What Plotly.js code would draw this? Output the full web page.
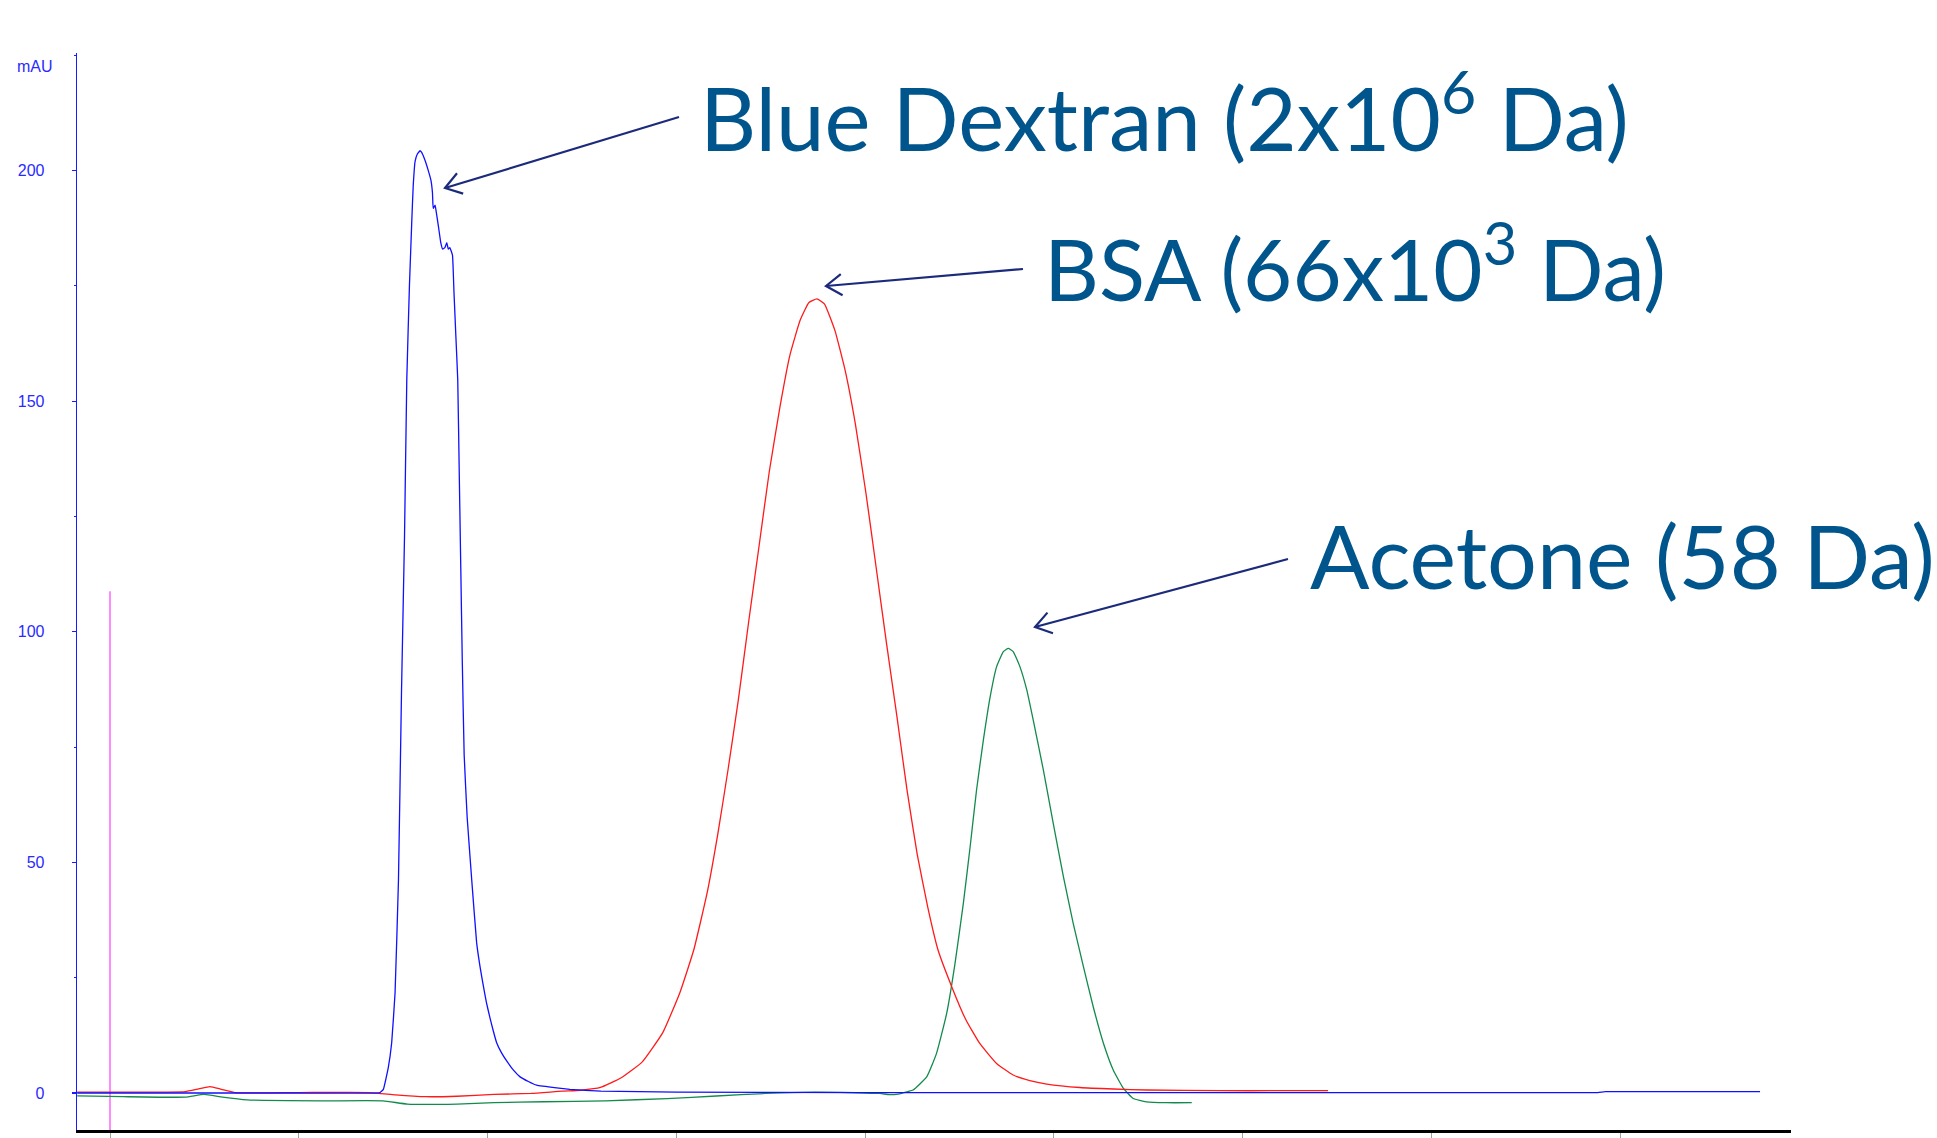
<!DOCTYPE html>
<html>
<head>
<meta charset="utf-8">
<script src="https://cdn.plot.ly/plotly-3.0.1.min.js"></script>
<style>html,body{margin:0;padding:0;background:#fff;}#chart{width:1937px;height:1138px;}</style>
</head>
<body>
<div id="chart"></div>
<script>
// ---- data ----
const seriesNames = ["Blue Dextran", "BSA", "Acetone"];

const blueX = [-0.87, 1, 3, 5, 7.15, 7.24, 7.37, 7.46, 7.55, 7.64, 7.72, 7.80, 7.86, 7.93, 7.99, 8.03, 8.08, 8.14, 8.21, 8.25, 8.34, 8.43, 8.50, 8.54, 8.56, 8.61, 8.65, 8.70, 8.76, 8.81, 8.87, 8.92, 8.96, 9.00, 9.07, 9.11, 9.16, 9.21, 9.25, 9.29, 9.33, 9.38, 9.46, 9.58, 9.71, 9.80, 9.89, 9.97, 10.06, 10.15, 10.24, 10.37, 10.51, 10.68, 10.86, 11.08, 11.30, 11.83, 12.18, 13, 15, 20, 25, 30, 35, 39.4, 39.6, 41, 43.7];
const blueY = [0, 0, 0, 0, 0.1, 0.8, 5.5, 10.9, 21.8, 46.2, 86.8, 120.7, 154.6, 174.9, 188.5, 196.6, 202.0, 203.6, 204.3, 204.0, 202.3, 200.0, 197.9, 195.2, 191.8, 192.5, 190.5, 187.8, 184.4, 183.0, 183.3, 184.4, 183.0, 183.3, 181.7, 173.6, 164.1, 154.6, 134.3, 113.9, 93.6, 73.3, 59.7, 46.2, 32.6, 27.4, 23.1, 19.6, 16.4, 13.5, 10.9, 8.7, 6.9, 5.0, 3.5, 2.5, 1.7, 1.1, 0.8, 0.4, 0.2, 0.1, 0.1, 0.1, 0.1, 0.1, 0.3, 0.3, 0.3];

const redX = [-0.87, 1.5, 1.99, 2.35, 2.65, 2.95, 3.30, 5, 6.9, 7.56, 8.37, 9.19, 10.17, 11.15, 11.97, 12.46, 12.99, 13.54, 14.09, 14.64, 15.09, 15.46, 15.82, 16.10, 16.37, 16.64, 16.92, 17.19, 17.46, 17.74, 18.01, 18.28, 18.51, 18.72, 18.92, 19.20, 19.47, 19.74, 20.02, 20.29, 20.56, 20.84, 21.11, 21.38, 21.66, 21.93, 22.30, 22.66, 23.03, 23.48, 23.92, 24.36, 24.81, 25.69, 26.58, 27.45, 29.40, 31, 32.26];
const redY = [0.2, 0.2, 0.3, 0.9, 1.4, 0.8, 0.1, 0.1, 0.1, -0.4, -0.8, -0.7, -0.3, -0.1, 0.4, 0.6, 1.2, 3.3, 6.7, 13.1, 21.7, 31.0, 43.6, 56.3, 70.2, 85.2, 102.5, 118.6, 134.7, 148.6, 160.1, 167.6, 171.4, 172.2, 171.1, 165.3, 156.7, 145.1, 130.1, 114.0, 97.8, 81.7, 65.6, 51.7, 40.2, 31.0, 22.9, 16.0, 10.8, 6.4, 3.9, 2.7, 1.95, 1.2, 0.87, 0.65, 0.5, 0.5, 0.5];

const greenX = [-0.87, 0.36, 1.99, 2.49, 2.98, 3.63, 5.59, 7.23, 7.88, 9.19, 10.17, 11.48, 13.12, 14.75, 16.06, 17.37, 18.68, 19.99, 20.39, 20.64, 20.83, 21.13, 21.27, 21.63, 21.89, 22.16, 22.38, 22.60, 22.78, 22.95, 23.13, 23.31, 23.48, 23.66, 23.79, 23.92, 24.10, 24.28, 24.45, 24.72, 24.98, 25.25, 25.51, 25.78, 26.04, 26.31, 26.57, 26.84, 27.10, 27.45, 27.98, 28.65];
const greenY = [-0.6, -0.8, -0.9, -0.3, -0.9, -1.5, -1.7, -1.7, -2.4, -2.4, -2.1, -1.9, -1.7, -1.2, -0.65, -0.1, 0.2, 0.0, -0.1, -0.35, -0.3, 0.3, 0.65, 3.5, 8.6, 17.3, 28.1, 41.1, 53.4, 65.7, 76.5, 85.9, 92.4, 95.7, 96.4, 95.7, 92.4, 87.4, 80.9, 70.0, 58.5, 46.9, 36.8, 27.4, 18.7, 10.8, 5.0, 1.0, -1.2, -1.9, -2.1, -2.1];

const injectX = [0, 0];
const injectY = [-8, 108.8];

const yTickVals = [0, 50, 100, 150, 200];
const yTickText = ["0", "50", "100", "150", "200"];
const xTickVals = [0, 5, 10, 15, 20, 25, 30, 35, 40];

const labelTexts = [
  "Blue Dextran (2x10<sup>6</sup> Da)",
  "BSA (66x10<sup>3</sup> Da)",
  "Acetone (58 Da)"
];
const unitLabel = "mAU";

// ---- layout helpers (pixel -> paper) ----
const W = 1937, H = 1138;
const L = 77, R = 1791, T = 53, B = 1130;
const px = x => (x - L) / (R - L);
const py = y => (B - y) / (B - T);

const labelPos = [[698, 112], [1042, 262], [1308, 555]];
const labelSize = [87, 85, 88];
const arrows = [
  {tail: [679, 117], tip: [445, 188]},
  {tail: [1023, 269], tip: [826, 286]},
  {tail: [1288, 559], tip: [1035, 627]}
];
const arrowColor = "#1c2a7c";

const shapes = [];
arrows.forEach(a => {
  const dx = a.tail[0] - a.tip[0], dy = a.tail[1] - a.tip[1];
  const len = Math.hypot(dx, dy), ux = dx / len, uy = dy / len;
  const th = 34 * Math.PI / 180, al = 19;
  const arm = s => [a.tip[0] + al * (ux * Math.cos(s * th) - uy * Math.sin(s * th)),
                    a.tip[1] + al * (ux * Math.sin(s * th) + uy * Math.cos(s * th))];
  const p1 = arm(1), p2 = arm(-1);
  const line = {color: arrowColor, width: 2.2};
  shapes.push({type: "line", xref: "paper", yref: "paper", x0: px(a.tail[0]), y0: py(a.tail[1]), x1: px(a.tip[0]), y1: py(a.tip[1]), line});
  shapes.push({type: "path", xref: "paper", yref: "paper",
    path: `M${px(p1[0])},${py(p1[1])} L${px(a.tip[0])},${py(a.tip[1])} L${px(p2[0])},${py(p2[1])}`, line});
});

const annotations = labelTexts.map((t, i) => ({
  text: t, xref: "paper", yref: "paper", x: px(labelPos[i][0]), y: py(labelPos[i][1]),
  xanchor: "left", yanchor: "middle", showarrow: false,
  font: {family: "Lato, 'Open Sans', sans-serif", size: labelSize[i], color: "#00558c"}
}));
annotations.push({text: unitLabel, xref: "paper", yref: "paper", x: px(35), y: py(67),
  xanchor: "center", yanchor: "middle", showarrow: false,
  font: {family: "'Liberation Sans', Arial, sans-serif", size: 16, color: "#2a2aff"}});

const traces = [
  {x: injectX, y: injectY, mode: "lines", line: {color: "#ff8cff", width: 2}, hoverinfo: "skip", showlegend: false},
  {x: greenX, y: greenY, name: seriesNames[2], mode: "lines", line: {color: "#138a4c", width: 1.3, shape: "spline", smoothing: 0.4}},
  {x: redX, y: redY, name: seriesNames[1], mode: "lines", line: {color: "#ff1a1a", width: 1.3, shape: "spline", smoothing: 0.4}},
  {x: blueX, y: blueY, name: seriesNames[0], mode: "lines", line: {color: "#1010ff", width: 1.3, shape: "spline", smoothing: 0.3}}
];

const layout = {
  width: W, height: H,
  margin: {l: L, r: W - R, t: T, b: H - B, pad: 0},
  paper_bgcolor: "#ffffff", plot_bgcolor: "#ffffff",
  showlegend: false,
  xaxis: {
    range: [-0.874, 44.52], showgrid: false, zeroline: false,
    showline: true, linecolor: "#000000", linewidth: 2.5,
    ticks: "outside", tickvals: xTickVals, ticklen: 5, tickwidth: 1, tickcolor: "#a0a0a0",
    showticklabels: false, fixedrange: true
  },
  yaxis: {
    range: [-8.02, 225.5], showgrid: false, zeroline: false,
    showline: true, linecolor: "#1a1aff", linewidth: 1.3,
    ticks: "outside", tickvals: yTickVals, ticktext: yTickText, ticklen: 4, tickwidth: 1.3, tickcolor: "#1a1aff",
    minor: {tickvals: [25, 75, 125, 175, 225], ticks: "outside", ticklen: 2, tickcolor: "#1a1aff", tickwidth: 1},
    tickfont: {family: "'Liberation Sans', Arial, sans-serif", size: 16, color: "#2a2aff"},
    ticklabelstandoff: 24, fixedrange: true
  },
  shapes, annotations
};

Plotly.newPlot("chart", traces, layout, {displayModeBar: false, staticPlot: true});
</script>
</body>
</html>
